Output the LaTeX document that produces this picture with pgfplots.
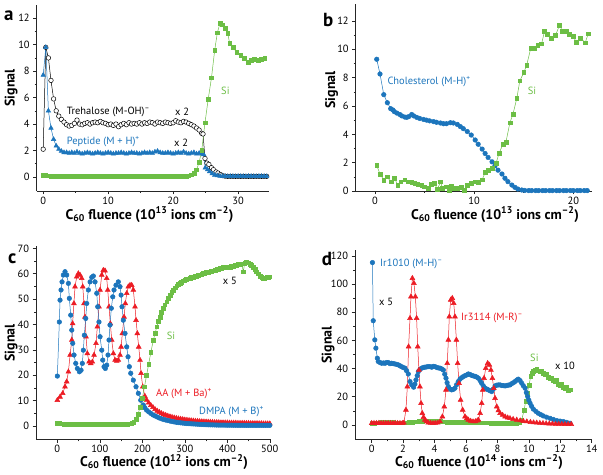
\documentclass[border=0pt]{standalone}
\usepackage{pgfplots}
\pgfplotsset{compat=1.18}
\usepackage{fontspec}
\setmainfont{PT Sans}
\definecolor{cblue}{RGB}{28,117,188}
\definecolor{cgreen}{RGB}{108,190,69}
\definecolor{cred}{RGB}{236,28,36}
\pgfplotsset{
  panel/.style={
    scale only axis, axis lines=left, axis line style={-, line width=0.8pt, black!85},
    tick align=outside, tick pos=left, major tick length=3.5pt, minor tick length=2pt,
    every tick/.style={black!85, line width=0.6pt},
    /pgf/number format/assume math mode=true,
    ticklabel style={font=\fontsize{10.5}{12}\selectfont},
    xticklabel style={yshift=1pt},
    clip=false,
  },
  sblue/.style={cblue, line width=0.5pt, mark=*, mark size=2.3pt, mark options={fill=cblue, draw=cblue}},
  sbluetri/.style={cblue, line width=0.5pt, mark=triangle*, mark size=2.6pt, mark options={fill=cblue, draw=cblue}},
  sred/.style={cred, line width=0.5pt, mark=triangle*, mark size=2.8pt, mark options={fill=cred, draw=cred}},
  sgreen/.style={cgreen, line width=0.5pt, mark=square*, mark size=1.9pt, mark options={fill=cgreen, draw=cgreen}},
}
\newcommand{\lab}{\fontsize{10.5}{12}\selectfont}
\newcommand{\axl}{\fontsize{14}{16}\selectfont\bfseries}
\newcommand{\pl}{\fontsize{19}{22}\selectfont\bfseries}
\begin{document}
\begin{tikzpicture}
\path[use as bounding box] (0bp,0bp) rectangle (603bp,475bp);
% ---------------- panel a
\begin{axis}[panel, anchor=south west, at={(36.7bp,284bp)}, width=232.6bp, height=186bp,
  xmin=-1, xmax=34.8, ymin=-1.06, ymax=13.0,
  xtick={0,10,20,30}, minor xtick={5,15,25},
  ytick={0,2,...,12}, minor ytick={1,3,...,11}]
\addplot[black, line width=0.5pt, mark=*, mark size=2.3pt, mark options={fill=white, draw=black, line width=0.5pt}] coordinates {
(0,2.1)(0.4,9.8)(0.8,9.0)(1.2,7.3)(1.6,5.9)(2.0,5.0)(2.4,4.6)(2.8,4.35)(3.2,4.15)(3.6,3.95)(4.0,3.85)(4.4,3.9)(4.8,4.05)(5.2,4.3)(5.6,4.0)(6.0,3.95)(6.4,4.05)(6.8,4.1)(7.2,4.0)(7.6,4.1)(8.0,4.15)(8.4,4.1)(8.8,4.2)(9.2,4.1)(9.6,4.05)(10.0,3.95)(10.4,4.0)(10.8,3.9)(11.2,4.0)(11.6,3.8)(12.0,3.95)(12.4,4.05)(12.8,3.95)(13.2,4.1)(13.6,4.0)(14.0,4.05)(14.4,4.0)(14.8,4.1)(15.2,4.0)(15.6,4.1)(16.0,4.05)(16.4,4.15)(16.8,4.1)(17.2,4.0)(17.6,4.15)(18.0,4.1)(18.4,4.05)(18.8,4.15)(19.2,4.1)(19.6,4.05)(20.0,4.1)(20.4,4.25)(20.8,4.15)(21.2,4.1)(21.6,4.2)(22.0,4.15)(22.4,4.05)(22.8,3.95)(23.2,3.85)(23.6,3.7)(24.0,3.55)(24.4,3.3)(24.6,3.25)(24.9,1.4)(25.2,1.05)(25.5,0.95)(25.9,0.7)(26.2,0.55)(26.6,0.38)(26.9,0.3)(27.3,0.18)(27.6,0.1)(28.0,0.06)(28.4,0.05)(28.8,0.05)(29.2,0.05)(29.6,0.05)(30.0,0.05)(30.4,0.05)(30.8,0.05)(31.2,0.05)(31.6,0.05)(32.0,0.05)(32.4,0.05)(32.8,0.05)(33.2,0.05)(33.6,0.05)(34.0,0.05)(34.4,0.05)};
\addplot[sbluetri] coordinates {
(0,7.7)(0.4,9.8)(0.8,5.0)(1.2,3.7)(1.6,2.85)(2.0,2.35)(2.4,2.1)(2.8,1.95)(3.2,1.85)(3.6,1.85)(4.0,1.8)(4.4,1.85)(4.8,1.8)(5.2,1.9)(5.6,1.8)(6.0,1.75)(6.4,1.8)(6.8,1.85)(7.2,1.8)(7.6,1.75)(8.0,1.8)(8.4,1.85)(8.8,1.8)(9.2,1.75)(9.6,1.8)(10.0,1.85)(10.4,1.8)(10.8,1.75)(11.2,1.8)(11.6,1.8)(12.0,1.85)(12.4,1.8)(12.8,1.75)(13.2,1.8)(13.6,1.85)(14.0,1.8)(14.4,1.8)(14.8,1.75)(15.2,1.8)(15.6,1.85)(16.0,1.8)(16.4,1.85)(16.8,1.8)(17.2,1.9)(17.6,1.95)(18.0,1.85)(18.4,1.8)(18.8,1.8)(19.2,1.85)(19.6,1.8)(20.0,1.75)(20.4,1.8)(20.8,1.85)(21.2,1.8)(21.6,1.9)(22.0,1.8)(22.4,1.75)(22.8,1.8)(23.2,1.85)(23.6,1.75)(24.0,1.8)(24.4,1.75)(24.7,1.7)(24.95,0.7)(25.3,0.55)(25.6,0.4)(26.0,0.25)(26.4,0.15)(26.8,0.1)(27.2,0.06)(27.6,0.05)(28.0,0.05)(28.4,0.04)(28.8,0.05)(29.2,0.05)(29.6,0.04)(30.0,0.05)(30.4,0.05)(30.8,0.05)(31.2,0.04)(31.6,0.05)(32.0,0.05)(32.4,0.05)(32.8,0.04)(33.2,0.05)(33.6,0.05)(34.0,0.05)(34.4,0.04)};
\addplot[sgreen] coordinates {
(0,0.14)(0.4,0.12)(0.8,0.1)(1.2,0.08)(1.6,0.07)(2.0,0.06)(2.4,0.06)(2.8,0.05)(3.2,0.05)(3.6,0.05)(4.0,0.05)(4.4,0.05)(4.8,0.05)(5.2,0.05)(5.6,0.05)(6.0,0.05)(6.4,0.05)(6.8,0.05)(7.2,0.05)(7.6,0.05)(8.0,0.05)(8.4,0.05)(8.8,0.05)(9.2,0.05)(9.6,0.05)(10.0,0.05)(10.4,0.05)(10.8,0.05)(11.2,0.05)(11.6,0.05)(12.0,0.05)(12.4,0.05)(12.8,0.05)(13.2,0.05)(13.6,0.05)(14.0,0.05)(14.4,0.05)(14.8,0.05)(15.2,0.05)(15.6,0.05)(16.0,0.05)(16.4,0.05)(16.8,0.05)(17.2,0.05)(17.6,0.05)(18.0,0.05)(18.4,0.05)(18.8,0.05)(19.2,0.05)(19.6,0.05)(20.0,0.05)(20.4,0.05)(20.8,0.05)(21.2,0.05)(21.6,0.05)(22.0,0.07)(22.4,0.1)(22.8,0.17)(23.2,0.3)(23.6,0.55)(24.0,1.1)(24.4,2.0)(24.9,4.1)(25.4,5.9)(25.9,7.5)(26.4,9.6)(26.8,10.9)(27.2,11.6)(27.6,11.5)(28.0,11.25)(28.4,10.85)(28.7,10.1)(29.2,9.8)(29.8,9.4)(30.4,9.2)(30.9,9.0)(31.5,8.65)(32.0,8.8)(32.5,8.9)(33.1,8.85)(33.6,8.9)(34.1,9.0)};
\end{axis}
% ---------------- panel b
\begin{axis}[panel, anchor=south west, at={(355.7bp,284bp)}, width=236bp, height=187bp,
  xmin=-1.95, xmax=21.85, ymin=0, ymax=13.2,
  xtick={0,10,20}, minor xtick={5,15},
  ytick={0,2,...,12}, minor ytick={1,3,...,11}]
\addplot[sblue] coordinates {
(0.17,9.3)(0.5,8.26)(0.88,6.8)(1.24,6.23)(1.58,5.81)(1.8,5.72)(1.95,5.6)(2.2,5.5)(2.5,5.4)(2.7,5.3)(3.0,5.22)(3.2,5.2)(3.4,5.25)(3.7,5.4)(3.9,5.3)(4.2,5.2)(4.5,5.12)(4.9,5.05)(5.2,5.0)(5.5,4.95)(5.9,4.9)(6.2,4.85)(6.6,4.8)(6.9,4.75)(7.2,4.75)(7.6,4.82)(7.9,4.8)(8.3,4.7)(8.6,4.55)(8.9,4.4)(9.3,4.2)(9.7,3.95)(10.1,3.6)(10.4,3.3)(10.8,2.96)(11.1,2.65)(11.4,2.37)(11.8,2.06)(12.1,1.78)(12.4,1.47)(12.8,1.2)(13.1,0.9)(13.4,0.66)(13.8,0.42)(14.1,0.26)(14.4,0.14)(14.8,0.07)(15.1,0.04)(15.5,0.03)(15.8,0.03)(16.2,0.03)(16.5,0.03)(16.9,0.03)(17.2,0.03)(17.6,0.03)(17.9,0.03)(18.3,0.03)(18.6,0.03)(19.0,0.03)(19.3,0.03)(19.7,0.03)(20.0,0.03)(20.4,0.03)(20.7,0.03)(21.1,0.03)(21.4,0.03)};
\addplot[sgreen] coordinates {
(0.17,1.81)(0.5,1.2)(0.88,0.78)(1.2,1.0)(1.6,0.66)(1.95,0.9)(2.3,0.42)(2.6,0.66)(3.0,0.8)(3.3,0.66)(3.7,0.6)(4.0,0.52)(4.3,0.48)(4.7,0.42)(5.0,0.3)(5.4,0.18)(5.7,0.48)(6.0,0.52)(6.3,0.12)(6.6,0.66)(6.8,0.18)(7.2,0.3)(7.5,0.06)(7.7,0.34)(8.0,0.2)(8.3,0.2)(8.7,0.26)(9.0,0.06)(9.3,0.42)(9.7,0.54)(10.1,0.66)(10.4,0.6)(10.8,0.8)(11.1,1.3)(11.4,1.45)(11.8,1.6)(12.2,1.95)(12.5,2.65)(12.9,3.3)(13.2,3.45)(13.6,4.82)(13.9,5.4)(14.3,6.55)(14.6,7.78)(15.0,8.36)(15.3,8.9)(15.7,10.07)(16.1,10.1)(16.4,10.3)(16.8,10.4)(17.1,11.3)(17.4,11.05)(17.8,10.8)(18.2,10.98)(18.6,11.7)(18.9,11.3)(19.3,11.25)(19.6,11.06)(20.0,10.9)(20.3,10.5)(20.7,10.8)(21.2,10.47)(21.5,11.1)};
\end{axis}
% ---------------- panel c
\begin{axis}[panel, anchor=south west, at={(36.1bp,35.7bp)}, width=233.7bp, height=193.5bp,
  xmin=-50, xmax=500, ymin=-5.2, ymax=71,
  xtick={0,100,...,500}, minor xtick={50,150,...,450},
  ytick={0,10,...,70}, minor ytick={5,15,...,65}]
\addplot[sred] coordinates {
(0,10.2)(6.3,11.5)(12.6,12.9)(18,15.5)(22,17.5)(26,21.4)(30,28)(34,33.9)(36,40.4)(39,48.3)(41.6,54.9)(45.6,58.8)(49.4,60.1)(53.4,59.5)(57.4,58.2)(59.8,54.9)(62.8,48.3)(65,43)(67.5,35.2)(70.6,28.6)(74.6,25.3)(78.6,24.7)(82.4,25.3)(86.4,28)(91,32.6)(94.1,39.1)(98.1,47)(100.5,53.6)(104.5,59.5)(108.2,61.4)(112.2,61.2)(116.2,58.2)(118.6,53.6)(121.6,47)(124.7,40.4)(128,33.9)(131.8,28.6)(135.8,26)(139.8,25.6)(143.5,26)(147.5,28)(150,31.2)(153,36.5)(157,43)(160,48.3)(163.3,52.3)(167,54.9)(171,55.5)(175,55.5)(178.8,53.6)(182.8,47)(185.2,41.7)(188.2,36.5)(191.5,31.2)(194.6,26)(197,20.8)(201,15.5)(206,11.8)(210,10.3)(215,9.2)(220,8.2)(225,7.4)(230,6.6)(235,6.0)(240,5.5)(245,5.0)(250,4.6)(255,4.3)(260,4.0)(265,3.75)(270,3.5)(275,3.3)(280,3.1)(285,2.95)(290,2.8)(295,2.65)(300,2.5)(305,2.4)(310,2.3)(315,2.2)(320,2.1)(325,2.0)(330,1.95)(335,1.85)(340,1.8)(345,1.75)(350,1.7)(355,1.65)(360,1.6)(365,1.55)(370,1.5)(375,1.5)(380,1.45)(385,1.4)(390,1.4)(395,1.35)(400,1.35)(405,1.3)(410,1.3)(415,1.25)(420,1.25)(425,1.2)(430,1.2)(435,1.2)(440,1.2)(445,1.15)(450,1.15)(455,1.1)(460,1.1)(465,1.1)(470,1.1)(475,1.05)(480,1.05)(485,1.0)(490,1.0)(495,1.0)(500,1.0)};
\addplot[sblue] coordinates {
(0,19.7)(4.7,41)(6.3,49.6)(8.7,53.6)(11,56.8)(14.1,59.5)(18.1,60.8)(22,59.5)(26,56.2)(28.2,50.3)(31.5,43.7)(33.9,37.8)(36.2,32.6)(39.3,28)(43.3,24.7)(47,22.7)(51.8,21.4)(55.8,22)(58.8,24.7)(61.2,29.9)(63.5,35.8)(66.8,42.4)(69.2,48.3)(73,53.6)(77,56.8)(81,58.6)(84.7,59.1)(88.7,56.8)(92.7,52.3)(95,47)(98,41)(100.5,35.2)(104.5,29.9)(106.8,26)(109.9,23.4)(113,22.7)(116.2,24)(119.3,28)(121.6,33.9)(124,39.8)(127,46.4)(130.4,50.9)(133.4,53.6)(138,55.5)(143.5,56.8)(147.5,54.9)(150,51.6)(152.2,47)(155.3,41.7)(159.3,36.5)(163.3,31.2)(166.4,27.3)(169.4,23.4)(172.7,20.8)(178.8,18.1)(185.2,15.5)(190.6,12.9)(196.2,10.2)(202.4,8.3)(206,7.2)(210,6.3)(215,5.6)(220,5.0)(225,4.4)(230,4.0)(235,3.6)(240,3.2)(245,2.9)(250,2.6)(255,2.4)(260,2.2)(265,2.0)(270,1.8)(275,1.65)(280,1.5)(285,1.4)(290,1.3)(295,1.2)(300,1.1)(305,1.0)(310,0.95)(315,0.9)(320,0.85)(325,0.8)(330,0.75)(335,0.7)(340,0.65)(345,0.6)(350,0.55)(355,0.52)(360,0.5)(365,0.48)(370,0.45)(375,0.42)(380,0.4)(385,0.4)(390,0.4)(395,0.38)(400,0.35)(405,0.35)(410,0.35)(415,0.33)(420,0.33)(425,0.32)(430,0.32)(435,0.31)(440,0.3)(445,0.3)(450,0.3)(455,0.3)(460,0.3)(465,0.3)(470,0.3)(475,0.3)(480,0.3)(485,0.3)(490,0.3)(495,0.3)(500,0.3)};
\addplot[sgreen] coordinates {
(0,1.2)(5,1.0)(10,0.9)(15,0.8)(20,0.7)(25,0.7)(30,0.7)(35,0.7)(40,0.7)(45,0.7)(50,0.7)(55,0.7)(60,0.7)(65,0.7)(70,0.7)(75,0.7)(80,0.7)(85,0.7)(90,0.7)(95,0.7)(100,0.7)(105,0.7)(110,0.7)(115,0.7)(120,0.7)(125,0.7)(130,0.7)(135,0.7)(140,0.7)(145,0.7)(150,0.7)(155,0.7)(160,0.75)(165,0.8)(170,0.9)(175,1.1)(180,1.6)(185,2.8)(190,4.8)(195,7.5)(200,11)(205,15.5)(210,20)(215,24.5)(220,29)(226,33.9)(230,36.5)(234,39.1)(238,41.2)(241.6,43)(245,44.8)(249.4,46.4)(253,47.8)(257.4,49)(261,50.3)(265.2,51.6)(269,52.6)(273,53.6)(277,54.5)(281,55.3)(285,55.9)(288.7,56.4)(292,56.8)(296.5,57.2)(300,57.4)(304,57.7)(308,58.0)(312.2,58.2)(316,58.5)(320,58.7)(324,58.9)(328,59.1)(332,59.4)(336,59.6)(340,59.8)(343.5,60.1)(347,60.3)(351,60.5)(355,60.6)(359.3,60.8)(363,61.0)(367,61.2)(371,61.5)(375,61.7)(379,61.9)(383,62.1)(387,62.3)(390.6,62.5)(394,62.5)(398,62.6)(402,62.6)(406.4,62.7)(410,62.9)(414,63)(418,63.2)(422,63.4)(426,63.6)(430,63.8)(434,63.9)(437.6,60.8)(441,64.2)(445.4,64.7)(449,64.3)(453.4,63.8)(457,63.2)(461,62.5)(465,61.7)(469,60.8)(473,60)(477,59.1)(481,58.6)(484.7,58.2)(488,58.3)(492.7,58.6)(496,58.7)(498,58.8)};
\end{axis}
% ---------------- panel d
\begin{axis}[panel, anchor=south west, at={(355bp,35.7bp)}, width=236.7bp, height=189bp,
  xmin=-1.06, xmax=14, ymin=-10.2, ymax=124,
  xtick={0,2,...,14}, minor xtick={1,3,...,13},
  ytick={0,20,...,120}, minor ytick={10,30,...,110}]
\addplot[sgreen] coordinates {
(0,1.0)(0.2,1.2)(0.4,1.5)(0.6,1.8)(0.8,2.0)(1.0,2.2)(1.2,2.0)(1.4,1.8)(1.6,1.6)(1.8,1.5)(2.0,1.5)(2.2,1.6)(2.4,1.8)(2.6,2.0)(2.8,2.2)(3.0,2.5)(3.2,2.8)(3.4,3.0)(3.6,3.0)(3.8,3.0)(4.0,2.8)(4.2,2.6)(4.4,2.4)(4.6,2.2)(4.8,2.0)(5.0,2.0)(5.2,2.0)(5.4,2.0)(5.6,2.0)(5.8,2.0)(6.0,1.9)(6.2,1.8)(6.4,1.8)(6.6,1.7)(6.8,1.6)(7.0,1.6)(7.2,1.5)(7.4,1.5)(7.6,1.4)(7.8,1.4)(8.0,1.3)(8.2,1.3)(8.4,1.2)(8.6,1.2)(8.8,1.1)(9.0,1.0)(9.2,1.0)(9.4,1.5)(9.55,3.6)(9.7,10.7)(9.8,16.6)(9.9,22.5)(10.01,28.4)(10.12,34.3)(10.2,36.5)(10.29,37.9)(10.4,39)(10.5,39.6)(10.6,38.5)(10.71,37.9)(10.82,38.5)(10.92,36.7)(11.03,35.6)(11.14,36)(11.24,34)(11.35,33.2)(11.46,33.5)(11.56,31.5)(11.67,30.8)(11.78,31.5)(11.88,29)(11.99,28.4)(12.1,29)(12.2,26.8)(12.31,26)(12.41,26.5)(12.52,24.5)(12.62,25)};
\addplot[sblue] coordinates {
(0.05,115.3)(0.1,74)(0.2,60.4)(0.27,54.5)(0.36,47.4)(0.42,45)(0.53,44.3)(0.64,43.8)(0.75,44)(0.85,43.8)(0.95,44.3)(1.06,44.3)(1.17,43.5)(1.27,43.8)(1.38,43.5)(1.48,43.3)(1.59,43)(1.7,42.6)(1.8,42)(1.9,41.4)(2.0,40.8)(2.12,40.3)(2.22,38.5)(2.33,36.2)(2.44,30.8)(2.55,28.4)(2.67,26.8)(2.75,29)(2.82,32)(2.9,35)(2.97,37.9)(3.08,39.5)(3.18,40.3)(3.29,40.8)(3.39,41)(3.5,41.2)(3.6,41.4)(3.71,41.4)(3.82,41)(3.92,41.6)(4.03,41.4)(4.14,40.8)(4.24,40.5)(4.35,40.3)(4.45,39.8)(4.56,39)(4.65,36)(4.73,33.2)(4.8,30)(4.88,27.2)(4.98,25.5)(5.09,24.9)(5.2,25.3)(5.3,26.1)(5.4,28.5)(5.51,30.8)(5.62,32.5)(5.72,33.5)(5.83,34.3)(5.94,35)(6.05,35.5)(6.15,36.2)(6.26,35.8)(6.36,35.2)(6.47,34.8)(6.58,34.5)(6.68,34)(6.79,33.2)(6.9,31.5)(7.0,29.6)(7.1,27.8)(7.21,26.1)(7.32,25.5)(7.42,24.9)(7.53,24.3)(7.64,23.7)(7.74,25.5)(7.85,27.7)(7.96,28.2)(8.06,28.4)(8.17,28.4)(8.28,28)(8.38,27.9)(8.49,27.7)(8.6,28)(8.7,28.3)(8.8,28.4)(8.91,29.3)(9.02,30)(9.12,30.8)(9.23,31.8)(9.33,32.5)(9.44,31.5)(9.55,29.6)(9.65,27.8)(9.76,26.1)(9.84,23)(9.93,20.1)(10.0,17.6)(10.08,15.4)(10.18,13.2)(10.29,11.2)(10.45,9.6)(10.6,8.3)(10.76,7.3)(10.92,6.4)(11.13,5.5)(11.35,4.7)(11.56,3.9)(11.78,3.1)(11.99,2.7)(12.2,2.4)(12.41,1.8)(12.62,1.2)};
\addplot[sred] coordinates {
(0,1.2)(0.15,1.2)(0.3,1.2)(0.45,1.2)(0.6,1.2)(0.75,1.2)(0.9,1.2)(1.05,1.2)(1.2,1.2)(1.35,1.2)(1.5,1.2)(1.65,1.2)(1.8,1.2)(1.95,1.2)(2.05,1.5)(2.18,10.7)(2.27,27.2)(2.35,55.6)(2.44,75.8)(2.5,91.1)(2.59,104.2)(2.69,100.6)(2.78,91.1)(2.86,75.8)(2.93,55.6)(3.01,39)(3.07,27.2)(3.14,15.4)(3.22,8.3)(3.3,5.5)(3.39,3.6)(3.5,2.4)(3.6,1.6)(3.75,1.3)(3.9,1.2)(4.05,1.3)(4.2,1.5)(4.35,2.4)(4.5,5.9)(4.62,13)(4.73,24.9)(4.81,43.8)(4.88,60.4)(4.94,76.9)(5.03,88.8)(5.13,90)(5.22,86.4)(5.3,76.9)(5.39,60.4)(5.47,43.8)(5.56,29.6)(5.66,17.8)(5.79,10.7)(5.94,5.9)(6.05,4.5)(6.15,3.6)(6.3,2.8)(6.45,2.4)(6.6,2.5)(6.72,3.0)(6.79,3.6)(6.9,8.3)(7.0,15.4)(7.07,24.9)(7.15,33.2)(7.26,40.3)(7.38,43.8)(7.49,42.6)(7.59,39)(7.68,33.2)(7.77,26.1)(7.85,19)(7.96,13)(8.06,10.2)(8.17,8.3)(8.33,7)(8.49,5.9)(8.65,5.2)(8.8,4.7)(9.0,4.1)(9.23,3.6)(9.45,3.1)(9.65,2.7)(9.87,2.4)(10.1,2.0)(10.3,1.7)(10.5,1.5)(10.7,1.3)(10.9,1.2)(11.1,1.0)(11.3,0.9)(11.5,0.8)(11.7,0.7)(11.9,0.65)(12.1,0.6)(12.3,0.55)(12.5,0.5)(12.7,0.5)};
\end{axis}
% ---------------- texts
\begin{scope}[x=1bp, y=1bp, every node/.style={inner sep=0pt}]
\node[anchor=west] at (4,459.7) {\pl a};
\node[anchor=west] at (323,455.3) {\pl b};
\node[anchor=west] at (8,216) {\pl c};
\node[anchor=west] at (321.7,216) {\pl d};
\node at (149.5,260.5) {\axl C\textsubscript{60} fluence (10\textsuperscript{13} ions cm\textsuperscript{--2})};
\node at (495,260.5) {\axl C\textsubscript{60} fluence (10\textsuperscript{13} ions cm\textsuperscript{--2})};
\node at (164,13) {\axl C\textsubscript{60} fluence (10\textsuperscript{12} ions cm\textsuperscript{--2})};
\node at (479,13) {\axl C\textsubscript{60} fluence (10\textsuperscript{14} ions cm\textsuperscript{--2})};
\node[rotate=90] at (11,387) {\axl Signal};
\node[rotate=90] at (331.7,385) {\axl Signal};
\node[rotate=90] at (11,132) {\axl Signal};
\node[rotate=90] at (328,130) {\axl Signal};
\node[anchor=west] at (66.7,363.3) {\lab Trehalose (M-OH)\textsuperscript{--}};
\node[anchor=west] at (175,363.3) {\lab x 2};
\node[anchor=west, text=cblue] at (66.7,333.3) {\lab Peptide (M + H)\textsuperscript{+}};
\node[anchor=west] at (174,332.3) {\lab x 2};
\node[anchor=west, text=cgreen] at (221,384) {\lab Si};
\node[anchor=west, text=cblue] at (387.3,393.3) {\lab Cholesterol (M-H)\textsuperscript{+}};
\node[anchor=west, text=cgreen] at (527.7,384.3) {\lab Si};
\node[anchor=west, text=cgreen] at (166.7,139.3) {\lab Si};
\node[anchor=west] at (222.7,194.3) {\lab x 5};
\node[anchor=west, text=cred] at (156,81.7) {\lab AA (M + Ba)\textsuperscript{+}};
\node[anchor=west, text=cblue] at (199,63.3) {\lab DMPA (M + B)\textsuperscript{+}};
\node[anchor=west, text=cblue] at (380,210.7) {\lab Ir1010 (M-H)\textsuperscript{--}};
\node[anchor=west] at (379,173.3) {\lab x 5};
\node[anchor=west, text=cred] at (461,157.3) {\lab Ir3114 (M-R)\textsuperscript{--}};
\node[anchor=west, text=cgreen] at (530,117.3) {\lab Si};
\node[anchor=west] at (555,109) {\lab x 10};
\end{scope}
\end{tikzpicture}
\end{document}
